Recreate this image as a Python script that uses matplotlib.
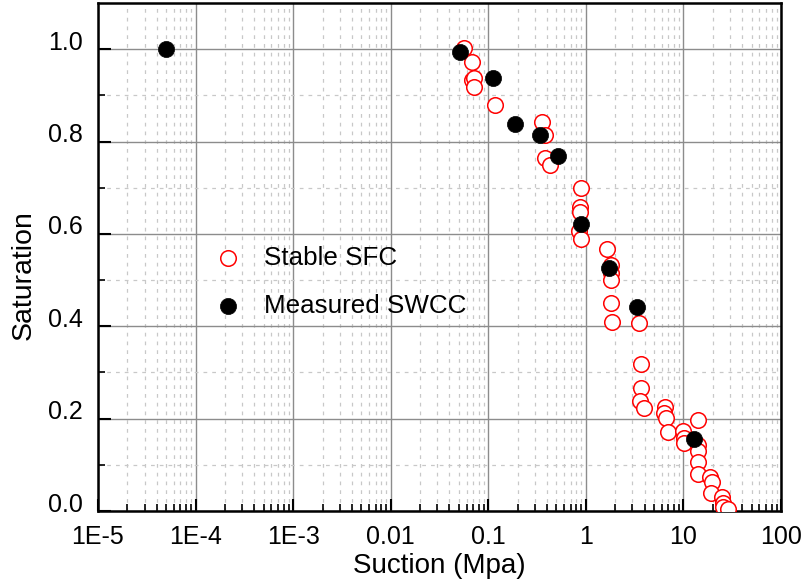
import matplotlib
matplotlib.use("Agg")
import matplotlib.pyplot as plt
import matplotlib.transforms as mtransforms
from matplotlib.ticker import LogLocator, FixedLocator, NullFormatter, FixedFormatter

plt.rcParams['font.family'] = ['Liberation Sans', 'DejaVu Sans']

# Stable SFC (suction in MPa, saturation)
sfc_suction = [0.0562, 0.068, 0.068, 0.072, 0.0712, 0.117, 0.354, 0.380, 0.380, 0.428,
               0.889, 0.867, 0.867, 0.847, 0.889, 1.64, 1.80, 1.80, 1.80, 1.80, 1.85,
               3.49, 3.66, 3.66, 3.57, 3.93, 6.45, 6.30, 6.60, 6.92, 9.87, 10.1, 10.1,
               14.1, 14.1, 14.1, 14.1, 14.1, 18.6, 19.5, 19.0, 24.7, 25.3, 25.3, 28.5]
sfc_saturation = [1.002, 0.972, 0.933, 0.937, 0.918, 0.879, 0.842, 0.814, 0.764, 0.749,
                  0.699, 0.658, 0.647, 0.606, 0.589, 0.567, 0.532, 0.515, 0.500, 0.450, 0.409,
                  0.407, 0.318, 0.266, 0.238, 0.223, 0.225, 0.212, 0.201, 0.171, 0.173, 0.158, 0.147,
                  0.197, 0.143, 0.130, 0.106, 0.080, 0.074, 0.063, 0.039, 0.030, 0.018, 0.009, 0.004]

# Measured SWCC
swcc_suction = [5.0e-5, 0.051, 0.111, 0.187, 0.338, 0.516, 0.89, 1.72, 3.34, 12.8]
swcc_saturation = [1.0, 0.993, 0.937, 0.838, 0.814, 0.768, 0.621, 0.526, 0.442, 0.156]

x_ticks = [1e-5, 1e-4, 1e-3, 1e-2, 1e-1, 1, 10, 100]
x_tick_labels = ["1E-5", "1E-4", "1E-3", "0.01", "0.1", "1", "10", "100"]
y_ticks = [0.0, 0.2, 0.4, 0.6, 0.8, 1.0]
y_tick_labels = ["0.0", "0.2", "0.4", "0.6", "0.8", "1.0"]

fig = plt.figure(figsize=(8.08, 5.85), dpi=100)
ax = fig.add_axes([98 / 808, 74 / 585, 683 / 808, 508 / 585])

ax.set_xscale('log')
ax.set_xlim(1e-5, 100)
ax.set_ylim(0.0, 1.1)

ax.scatter(sfc_suction, sfc_saturation, s=125, facecolors='white', edgecolors='red',
           linewidths=1.1, zorder=3, label='Stable SFC')
ax.scatter(swcc_suction, swcc_saturation, s=135, facecolors='black', edgecolors='black',
           linewidths=0.5, zorder=4, label='Measured SWCC')

# ticks
ax.xaxis.set_major_locator(FixedLocator(x_ticks))
ax.xaxis.set_major_formatter(FixedFormatter(x_tick_labels))
ax.xaxis.set_minor_locator(LogLocator(base=10, subs=range(2, 10), numticks=20))
ax.xaxis.set_minor_formatter(NullFormatter())
ax.yaxis.set_major_locator(FixedLocator(y_ticks))
ax.yaxis.set_major_formatter(FixedFormatter(y_tick_labels))
ax.yaxis.set_minor_locator(FixedLocator([0.1, 0.3, 0.5, 0.7, 0.9]))

ax.tick_params(which='major', direction='in', length=9, width=1.5, labelsize=18,
               top=False, right=False)
ax.tick_params(which='minor', direction='in', length=5, width=1.2, top=False, right=False)
ax.tick_params(axis='x', which='major', pad=10)
ax.tick_params(axis='y', which='major', pad=11)

# Grid
ax.grid(which='major', color='#8c8c8c', linewidth=1.0, linestyle='-')
ax.grid(which='minor', color='#c8c8c8', linewidth=0.9, linestyle=(0, (3, 4)))
ax.set_axisbelow(True)

for side in ['left', 'bottom', 'top', 'right']:
    ax.spines[side].set_linewidth(1.8)
    ax.spines[side].set_color('black')

# y labels sit a little above their ticks
shift = mtransforms.ScaledTranslation(0, 9 / 100, fig.dpi_scale_trans)
for lab in ax.get_yticklabels():
    lab.set_transform(lab.get_transform() + shift)

ax.set_xlabel('Suction (Mpa)', fontsize=20)
ax.set_ylabel('Saturation', fontsize=20.5)
ax.xaxis.set_label_coords(0.5, -0.082)
ax.yaxis.set_label_coords(-0.09, 0.465)

leg = ax.legend(loc='center left', bbox_to_anchor=(0.171, 0.451), frameon=False,
                fontsize=18.7, handlelength=1.0, handletextpad=0.88, labelspacing=0.95,
                borderpad=0, borderaxespad=0, markerscale=1.0)

fig.savefig('out.png', dpi=100)
